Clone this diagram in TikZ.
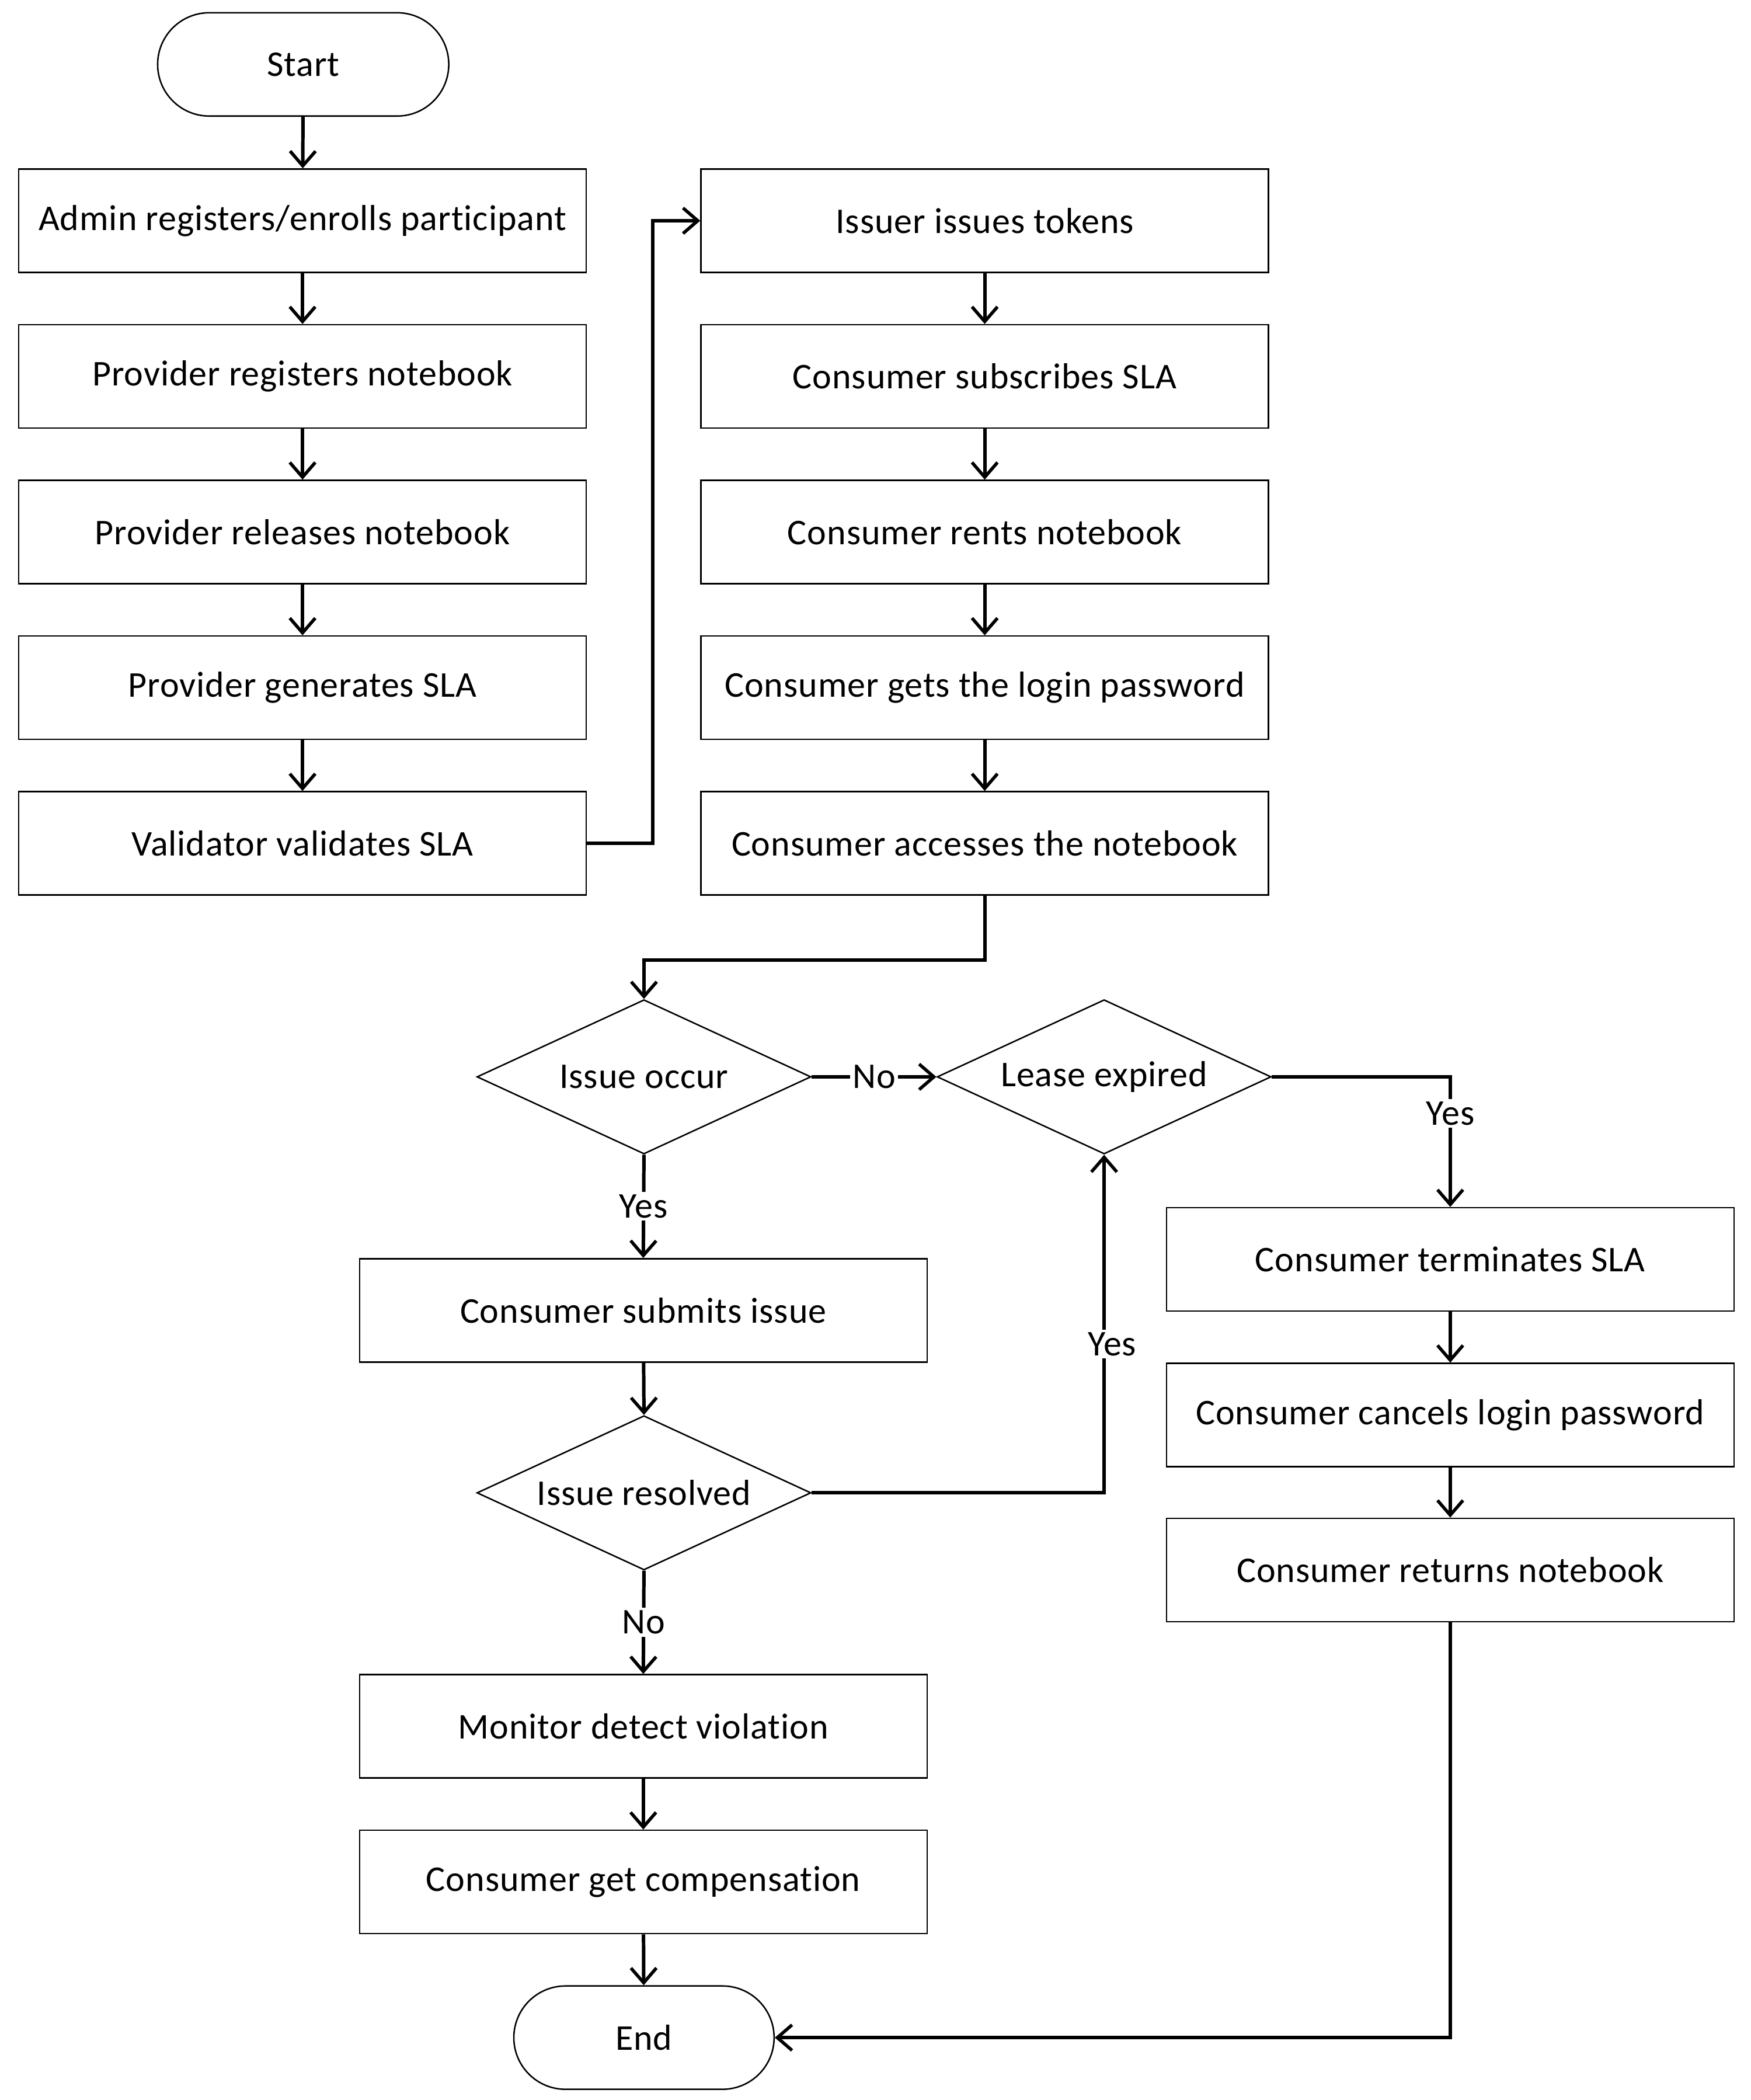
\documentclass[tikz,border=0pt]{standalone}
\usepackage{fontspec}
\setmainfont[LetterSpace=1.5,Ligatures={NoCommon}]{Carlito}
\usetikzlibrary{shapes.geometric,shapes.misc,arrows.meta}
\begin{document}
\begin{tikzpicture}[x=1pt,y=-1pt,
  txt/.style={font=\fontsize{27}{32}\selectfont, text=black},
  box/.style={txt, draw=black, line width=1.1pt, minimum width=423pt, minimum height=77pt, inner sep=0pt},
  term/.style={txt, draw=black, line width=1.1pt, rounded rectangle, minimum height=77pt, inner sep=0pt},
  dec/.style={txt, draw=black, line width=1.1pt, diamond, aspect=2.165, minimum width=249pt, minimum height=115pt, inner sep=0pt},
  conn/.style={draw=black, line width=2.6pt, -{Straight Barb[length=11pt,width=19pt,line width=2.4pt]}},
  lbl/.style={txt, fill=white, inner sep=2pt}
]
\fill[white] (0,0) rectangle (1305,1565);

% left column
\node[term, minimum width=217pt] (start) at (226,48) {Start};
\node[box] (adm) at (225.5,164.5) {Admin registers/enrolls participant};
\node[box] (preg) at (225.5,280.5) {Provider registers notebook};
\node[box] (prel) at (225.5,396.5) {Provider releases notebook};
\node[box] (pgen) at (225.5,512.5) {Provider generates SLA};
\node[box] (val) at (225.5,628.5) {Validator validates SLA};

% right column
\node[box] (iss) at (734,164.5) {Issuer issues tokens};
\node[box] (csub) at (734,280.5) {Consumer subscribes SLA};
\node[box] (crent) at (734,396.5) {Consumer rents notebook};
\node[box] (cpass) at (734,512.5) {Consumer gets the login password};
\node[box] (cacc) at (734,628.5) {Consumer accesses the notebook};

% decisions
\node[dec] (occ) at (480,802.5) {Issue occur};
\node[dec] (lease) at (823,802.5) {Lease expired};
\node[box] (subm) at (479.5,976.5) {Consumer submits issue};
\node[dec] (res) at (480,1112.5) {Issue resolved};
\node[box] (mon) at (479.5,1286.5) {Monitor detect violation};
\node[box] (comp) at (479.5,1402.5) {Consumer get compensation};
\node[term, minimum width=194pt] (end) at (480,1518.5) {End};

% far right column
\node[box] (cterm) at (1081,938.5) {Consumer terminates SLA};
\node[box] (ccanc) at (1081,1054.5) {Consumer cancels login password};
\node[box] (cret) at (1081,1170) {Consumer returns notebook};

% connectors
\draw[conn] (start) -- (adm);
\draw[conn] (adm) -- (preg);
\draw[conn] (preg) -- (prel);
\draw[conn] (prel) -- (pgen);
\draw[conn] (pgen) -- (val);
\draw[conn] (val.east) -- ++(49,0) |- (iss.west);
\draw[conn] (iss) -- (csub);
\draw[conn] (csub) -- (crent);
\draw[conn] (crent) -- (cpass);
\draw[conn] (cpass) -- (cacc);
\draw[conn] (cacc.south) -- ++(0,48) -| (occ.north);
\draw[conn] (occ.east) -- node[lbl] {No} (lease.west);
\draw[conn] (occ.south) -- node[lbl] {Yes} (subm.north);
\draw[conn] (subm) -- (res.north);
\draw[conn] (res.south) -- node[lbl] {No} (mon.north);
\draw[conn] (mon) -- (comp);
\draw[conn] (comp) -- (end);
\draw[conn] (res.east) -| node[lbl, pos=0.72, xshift=6pt] {Yes} (lease.south);
\draw[conn] (lease.east) -| node[lbl, pos=0.64] {Yes} (cterm.north);
\draw[conn] (cterm) -- (ccanc);
\draw[conn] (ccanc) -- (cret);
\draw[conn] (cret.south) |- (end.east);
\end{tikzpicture}
\end{document}
